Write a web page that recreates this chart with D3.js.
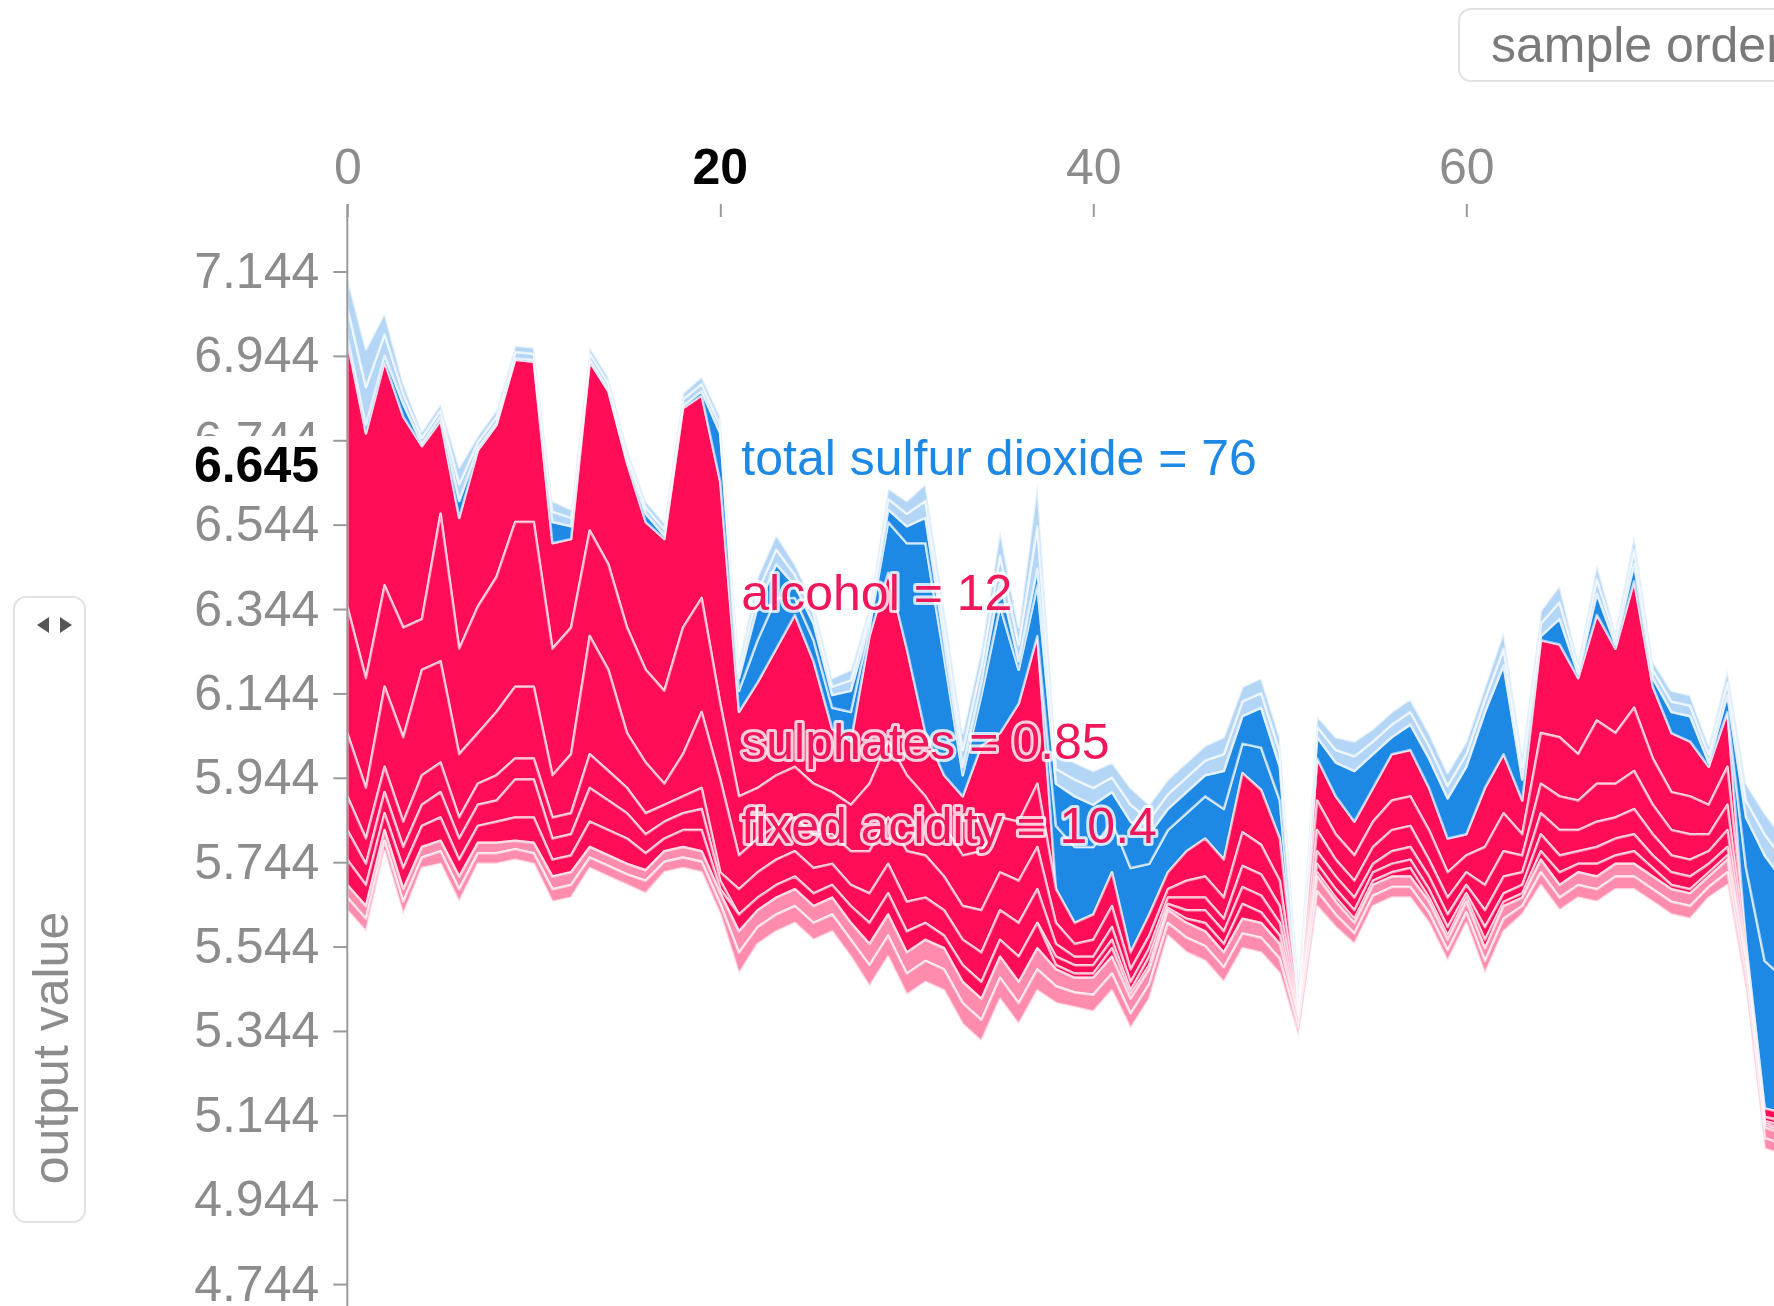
<!DOCTYPE html>
<html>
<head>
<meta charset="utf-8">
<script src="https://cdn.jsdelivr.net/npm/d3@7"></script>
<style>
  html, body { margin: 0; padding: 0; background: #fff; overflow: hidden; }
  svg { display: block; font-family: "Liberation Sans", Arial, Helvetica, sans-serif; }
</style>
</head>
<body>
<svg id="chart" width="1774" height="1306"></svg>
<script>
// ---- model output per sample (in sample order) ----
const outputValue = [
  6.98, 6.76, 6.93, 6.80, 6.73, 6.79, 6.56, 6.72, 6.78, 6.935, 6.93, 6.50, 6.51, 6.93, 6.86, 6.69, 6.55, 6.51, 6.82, 6.85,
  6.645, 6.10, 6.17, 6.25, 6.33, 6.22, 6.06, 6.03, 6.28, 6.43, 6.25, 6.05, 5.95, 5.90, 6.02, 6.05, 6.12, 6.28,
  5.68, 5.60, 5.62, 5.72, 5.53, 5.62, 5.72, 5.77, 5.80, 5.75, 5.955, 5.915, 5.80, 5.39,
  5.99, 5.90, 5.84, 5.92, 6.00, 6.01, 5.92, 5.80, 5.81, 5.92, 6.00, 5.89, 6.27, 6.26, 6.18, 6.33, 6.25, 6.41, 6.16, 6.05, 6.03, 5.97, 6.10,
  5.55, 5.16, 5.15, 5.18
];

// ---- SHAP contributions per feature (positive pushes up, negative pushes down) ----
const alcohol = [
  0.63, 0.58, 0.53, 0.50, 0.41, 0.22, 0.31, 0.37, 0.36, 0.385, 0.38, 0.25, 0.21, 0.40, 0.41, 0.39, 0.35, 0.36, 0.52, 0.48,
  0.525, 0.20, 0.25, 0.30, 0.36, 0.29, 0.15, 0.15, 0.35, 0.40, 0.30, 0.15, 0.12, 0.14, 0.25, 0.20, 0.28, 0.35,
  -0.15, -0.18, -0.16, -0.12, -0.20, -0.12, -0.10, -0.09, -0.10, -0.12, -0.07, -0.10, -0.09, -0.01,
  0.10, 0.09, 0.08, 0.08, 0.11, 0.11, 0.10, 0.08, 0.05, 0.14, 0.14, 0.08, 0.22, 0.22, 0.18, 0.25, 0.20, 0.30, 0.17, 0.14, 0.13, 0.09, 0.13,
  -0.18, -0.35, -0.32, -0.30
];
const totalSulfurDioxide = [
  -0.01, -0.02, -0.015, -0.03, -0.005, -0.01, -0.04, -0.005, -0.005, -0.003, -0.004, -0.05, -0.03, -0.005, -0.004, -0.006, -0.02, -0.008, -0.006, -0.01,
  -0.115, -0.05, -0.10, -0.12, -0.04, -0.05, -0.05, -0.07, -0.02, -0.12, -0.25, -0.45, -0.28, -0.05, -0.12, -0.30, -0.08, -0.12,
  -0.10, -0.12, -0.10, -0.07, -0.11, -0.07, -0.05, -0.05, -0.05, -0.09, -0.065, -0.095, -0.08, -0.01,
  -0.05, -0.08, -0.12, -0.08, -0.04, -0.06, -0.07, -0.095, -0.16, -0.18, -0.21, -0.05, -0.01, -0.06, -0.01, -0.05, -0.01, -0.04, -0.02, -0.05, -0.06, -0.01, -0.04,
  -0.12, -0.25, -0.23, -0.20
];
const sulphates = [
  0.30, 0.26, 0.24, 0.26, 0.12, 0.35, 0.25, 0.30, 0.32, 0.39, 0.39, 0.30, 0.30, 0.25, 0.25, 0.25, 0.22, 0.22, 0.30, 0.27,
  0.18, 0.14, 0.12, 0.12, 0.12, 0.12, 0.10, 0.11, 0.16, 0.18, 0.18, 0.14, 0.12, 0.12, 0.14, 0.13, 0.14, 0.15,
  0.08, 0.05, 0.06, 0.08, 0.04, 0.05, 0.04, 0.07, 0.09, 0.09, 0.14, 0.13, 0.10, 0.005,
  0.07, 0.06, 0.06, 0.06, 0.07, 0.07, 0.07, 0.06, 0.04, 0.09, 0.09, 0.05, 0.12, 0.14, 0.11, 0.15, 0.12, 0.15, 0.11, 0.09, 0.09, 0.07, 0.09,
  0.02, 0.02, 0.02, 0.02
];
const fixedAcidity = [
  0.15, 0.12, 0.19, 0.20, 0.25, 0.24, 0.15, 0.12, 0.15, 0.17, 0.17, 0.10, 0.14, 0.28, 0.24, 0.13, 0.12, 0.05, 0.10, 0.18,
  0.22, 0.08, 0.08, 0.08, 0.08, 0.08, 0.07, 0.08, 0.10, 0.11, 0.12, 0.10, 0.08, 0.08, 0.10, 0.09, 0.10, 0.10,
  0.05, 0.03, 0.04, 0.05, 0.03, 0.03, 0.02, 0.04, 0.05, 0.05, 0.08, 0.07, 0.06, 0.005,
  0.05, 0.04, 0.04, 0.04, 0.05, 0.05, 0.04, 0.04, 0.03, 0.06, 0.06, 0.04, 0.07, 0.08, 0.07, 0.09, 0.08, 0.09, 0.07, 0.06, 0.06, 0.04, 0.06,
  0.01, 0.01, 0.01, 0.01
];
const volatileAcidity = [
  0.08, 0.06, 0.06, 0.06, 0.07, 0.07, 0.05, 0.05, 0.06, 0.05, 0.05, 0.05, 0.05, 0.08, 0.07, 0.06, 0.05, 0.04, 0.04, 0.05,
  0.02, 0.06, 0.06, 0.06, 0.06, 0.06, 0.05, 0.05, 0.07, 0.07, 0.07, 0.06, 0.06, 0.06, 0.07, 0.07, 0.08, 0.08,
  0.03, 0.02, 0.02, 0.03, 0.02, 0.02, 0.015, 0.03, 0.03, 0.03, 0.05, 0.05, 0.04, 0.005,
  0.03, 0.03, 0.03, 0.02, 0.03, 0.03, 0.03, 0.03, 0.02, 0.04, 0.04, 0.03, 0.05, 0.06, 0.05, 0.06, 0.05, 0.06, 0.05, 0.04, 0.04, 0.03, 0.04,
  0.01, 0.005, 0.01, 0.01
];
const citricAcid = [
  0.07, 0.05, 0.05, 0.05, 0.05, 0.06, 0.05, 0.05, 0.05, 0.09, 0.09, 0.05, 0.05, 0.08, 0.07, 0.06, 0.045, 0.04, 0.04, 0.05,
  0.02, -0.03, -0.08, -0.08, -0.03, -0.04, -0.03, -0.05, -0.01, -0.03, -0.04, -0.06, -0.04, -0.02, -0.03, -0.06, -0.02, -0.04,
  0.02, 0.02, 0.02, 0.02, 0.01, 0.02, 0.01, 0.02, 0.03, 0.03, 0.04, 0.04, 0.03, 0.005,
  0.02, 0.02, 0.02, 0.02, 0.02, 0.02, 0.02, 0.02, 0.01, 0.03, 0.02, 0.02, 0.04, 0.04, 0.03, 0.04, 0.04, 0.04, 0.03, 0.03, 0.03, 0.02, 0.02,
  0.01, 0.005, 0.005, 0.005
];
const density = [
  0.06, 0.05, 0.04, 0.05, 0.05, 0.055, 0.04, 0.04, 0.05, 0.055, 0.06, 0.04, 0.04, 0.06, 0.06, 0.06, 0.04, 0.03, 0.04, 0.05,
  0.01, 0.04, 0.03, 0.03, 0.03, 0.03, 0.03, 0.04, 0.05, 0.05, 0.05, 0.04, 0.03, 0.04, 0.04, 0.04, 0.06, 0.06,
  0.01, 0.01, 0.01, 0.02, 0.01, 0.01, 0.005, 0.01, 0.02, 0.02, 0.035, 0.025, 0.02, 0,
  0.01, 0.01, 0.01, 0.01, 0.01, 0.02, 0.01, 0.01, 0.01, 0.02, 0.01, 0.01, 0.02, 0.03, 0.02, 0.03, 0.02, 0.03, 0.02, 0.01, 0.01, 0.01, 0.01,
  0, 0.005, 0.005, 0.005
];
const freeSulfurDioxide = [
  -0.07, -0.09, -0.05, -0.025, -0.015, -0.015, -0.04, -0.015, -0.015, -0.015, -0.015, -0.025, -0.02, -0.015, -0.015, -0.015, -0.015, -0.015, -0.015, -0.017,
  -0.02, -0.02, -0.035, -0.035, -0.025, -0.025, -0.02, -0.025, -0.02, -0.025, -0.03, -0.04, -0.04, -0.04, -0.04, -0.06, -0.04, -0.10,
  -0.035, -0.04, -0.04, -0.035, -0.04, -0.035, -0.035, -0.035, -0.035, -0.04, -0.035, -0.035, -0.035, -0.025,
  -0.025, -0.03, -0.035, -0.03, -0.03, -0.03, -0.03, -0.03, -0.03, -0.03, -0.04, -0.03, -0.03, -0.04, -0.015, -0.035, -0.015, -0.035, -0.02, -0.025, -0.025, -0.02, -0.03,
  -0.04, -0.05, -0.05, -0.05
];
const chlorides = [
  -0.07, -0.09, -0.05, -0.025, -0.015, -0.015, -0.04, -0.015, -0.015, -0.015, -0.015, -0.025, -0.02, -0.015, -0.015, -0.015, -0.015, -0.015, -0.015, -0.018,
  -0.02, -0.02, -0.035, -0.035, -0.025, -0.025, -0.02, -0.025, -0.02, -0.025, -0.03, -0.04, -0.04, -0.04, -0.04, -0.06, -0.04, -0.10,
  -0.035, -0.04, -0.04, -0.035, -0.04, -0.035, -0.035, -0.035, -0.035, -0.04, -0.035, -0.035, -0.035, -0.025,
  -0.025, -0.03, -0.035, -0.03, -0.03, -0.03, -0.03, -0.03, -0.03, -0.03, -0.04, -0.03, -0.03, -0.04, -0.015, -0.035, -0.015, -0.035, -0.02, -0.025, -0.025, -0.02, -0.03,
  -0.04, -0.05, -0.05, -0.05
];
const pH = [
  0.03, 0.03, 0.025, 0.03, 0.025, 0.025, 0.03, 0.025, 0.025, 0.02, 0.025, 0.03, 0.03, 0.025, 0.025, 0.025, 0.025, 0.025, 0.025, 0.025,
  0.025, 0.05, 0.04, 0.04, 0.04, 0.04, 0.04, 0.04, 0.05, 0.05, 0.05, 0.05, 0.05, 0.05, 0.05, 0.05, 0.05, 0.05,
  0.04, 0.035, 0.04, 0.04, 0.035, 0.035, 0.03, 0.035, 0.035, 0.035, 0.035, 0.035, 0.035, 0.02,
  0.035, 0.03, 0.025, 0.025, 0.025, 0.025, 0.025, 0.025, 0.025, 0.03, 0.03, 0.02, 0.03, 0.03, 0.03, 0.03, 0.03, 0.03, 0.03, 0.03, 0.03, 0.025, 0.03,
  0.03, 0.025, 0.025, 0.025
];
const residualSugar = [
  0.03, 0.03, 0.025, 0.03, 0.025, 0.03, 0.03, 0.025, 0.025, 0.025, 0.025, 0.03, 0.03, 0.025, 0.025, 0.025, 0.03, 0.025, 0.025, 0.025,
  0.025, 0.05, 0.04, 0.04, 0.04, 0.04, 0.04, 0.04, 0.05, 0.05, 0.05, 0.05, 0.05, 0.05, 0.05, 0.05, 0.05, 0.05,
  0.04, 0.035, 0.04, 0.04, 0.035, 0.035, 0.03, 0.035, 0.035, 0.035, 0.035, 0.035, 0.035, 0.02,
  0.035, 0.03, 0.025, 0.025, 0.025, 0.025, 0.025, 0.025, 0.025, 0.03, 0.03, 0.02, 0.03, 0.03, 0.03, 0.03, 0.03, 0.03, 0.03, 0.03, 0.03, 0.025, 0.03,
  0.03, 0.025, 0.025, 0.025
];

// stacking order of the features, and the minor ones drawn in a lighter tint
const featureNames = ["alcohol", "total sulfur dioxide", "sulphates", "fixed acidity", "volatile acidity",
  "citric acid", "density", "free sulfur dioxide", "chlorides", "pH", "residual sugar"];
const featureShap = [alcohol, totalSulfurDioxide, sulphates, fixedAcidity, volatileAcidity,
  citricAcid, density, freeSulfurDioxide, chlorides, pH, residualSugar];
const minorFeatures = ["free sulfur dioxide", "chlorides", "pH", "residual sugar"];

// axes
const xTickValues = [0, 20, 40, 60];
const yTickValues = [4.744, 4.944, 5.144, 5.344, 5.544, 5.744, 5.944, 6.144, 6.344, 6.544, 6.744, 6.944, 7.144];

// highlighted sample and the feature values shown beside it
const hoverIndex = 20;
const hoverFeatures = ["total sulfur dioxide", "alcohol", "sulphates", "fixed acidity"];
const hoverFeatureValues = ["76", "12", "0.85", "10.4"];

// ---------------------------------------------------------------
const colors = { pos: "#ff0d57", neg: "#1e88e5", posLight: "#ff8cad", negLight: "#b3d5f6" };

const svg = d3.select("#chart");
const n = outputValue.length;

const x = d3.scaleLinear().domain([0, 80]).range([347.3, 347.3 + 80 * 18.65]);
const y = d3.scaleLinear().domain([4.744, 7.144]).range([1284.1, 271.5]);

// stack: positive effects below the output value, negative effects above it
const bands = featureNames.map(() => ({ pos: [], neg: [] }));
for (let i = 0; i < n; i++) {
  let lo = outputValue[i], hi = outputValue[i];
  featureShap.forEach((vals, k) => {
    const v = vals[i];
    if (v > 0) {
      bands[k].pos.push({ i, top: lo, bottom: lo - v, w: v });
      bands[k].neg.push({ i, top: hi, bottom: hi, w: 0 });
      lo -= v;
    } else {
      bands[k].neg.push({ i, top: hi - v, bottom: hi, w: -v });
      bands[k].pos.push({ i, top: lo, bottom: lo, w: 0 });
      hi -= v;
    }
  });
}

const plot = svg.append("g");

function drawBand(series, fill) {
  const visible = (d, i) => d.w > 0 || (i > 0 && series[i - 1].w > 0) || (i < n - 1 && series[i + 1].w > 0);
  const area = d3.area()
    .defined(visible)
    .x(d => x(d.i))
    .y0(d => y(d.bottom))
    .y1(d => y(d.top));
  plot.append("path")
    .datum(series)
    .attr("d", area)
    .attr("fill", fill)
    .attr("stroke", "#fff")
    .attr("stroke-opacity", 0.62)
    .attr("stroke-width", 2.5)
    .attr("stroke-linejoin", "round");
}

featureNames.forEach((name, k) => {
  const minor = minorFeatures.includes(name);
  drawBand(bands[k].pos, minor ? colors.posLight : colors.pos);
  drawBand(bands[k].neg, minor ? colors.negLight : colors.neg);
});

// ---- y axis ----
const axisColor = "#9a9a9a";
const labelColor = "#8c8c8c";
svg.append("line")
  .attr("x1", x(0)).attr("x2", x(0))
  .attr("y1", 204).attr("y2", 1306)
  .attr("stroke", axisColor).attr("stroke-width", 2);

const yAxis = svg.append("g")
  .attr("transform", `translate(${x(0)},0)`)
  .call(d3.axisLeft(y).tickValues(yTickValues).tickFormat(d3.format(".3f")).tickSize(14).tickPadding(14));
yAxis.select(".domain").remove();
yAxis.selectAll("line").attr("stroke", axisColor).attr("stroke-width", 2);
yAxis.selectAll("text").attr("font-size", 50).attr("fill", labelColor).attr("font-family", null);

// ---- x axis (top) ----
const xAxis = svg.append("g")
  .attr("transform", "translate(0,204)")
  .call(d3.axisTop(x).tickValues(xTickValues).tickFormat(d3.format("d")).tickSize(-13).tickPadding(20));
xAxis.select(".domain").remove();
xAxis.selectAll("line").attr("stroke", axisColor).attr("stroke-width", 2);
xAxis.selectAll("text").attr("font-size", 50).attr("fill", labelColor).attr("font-family", null)
  .filter(d => d === hoverIndex).remove();

// hovered sample index
svg.append("text")
  .attr("x", x(hoverIndex)).attr("y", 184)
  .attr("text-anchor", "middle")
  .attr("font-size", 50).attr("font-weight", "bold").attr("fill", "#000")
  .text(hoverIndex);

// hovered output value
svg.append("rect")
  .attr("x", 180).attr("y", y(outputValue[hoverIndex]) - 46)
  .attr("width", 145).attr("height", 56)
  .attr("fill", "#fff");
svg.append("text")
  .attr("x", 319).attr("y", y(outputValue[hoverIndex]))
  .attr("text-anchor", "end")
  .attr("font-size", 50).attr("font-weight", "bold").attr("fill", "#000")
  .text(d3.format(".3f")(outputValue[hoverIndex]));

// feature labels beside the hovered sample, centred on each feature's band
hoverFeatures.forEach((name, j) => {
  const k = featureNames.indexOf(name);
  const v = featureShap[k][hoverIndex];
  const b = v > 0 ? bands[k].pos[hoverIndex] : bands[k].neg[hoverIndex];
  const mid = (b.top + b.bottom) / 2;
  svg.append("text")
    .attr("x", x(hoverIndex) + 21)
    .attr("y", y(mid))
    .attr("dominant-baseline", "central")
    .attr("font-size", 50)
    .attr("fill", v > 0 ? "#f0185a" : colors.neg)
    .attr("stroke", "#fff").attr("stroke-opacity", 0.8).attr("stroke-width", 6)
    .attr("paint-order", "stroke")
    .attr("stroke-linejoin", "round")
    .text(`${name} = ${hoverFeatureValues[j]}`);
});

// ---- selector boxes ----
const leftBox = svg.append("g");
leftBox.append("rect")
  .attr("x", 14).attr("y", 597).attr("width", 71).attr("height", 625).attr("rx", 12)
  .attr("fill", "#fff").attr("stroke", "#e2e2e2").attr("stroke-width", 2);
leftBox.append("path").attr("d", "M37,625 L49,617 L49,633 Z").attr("fill", "#555");
leftBox.append("path").attr("d", "M72,625 L60,617 L60,633 Z").attr("fill", "#555");
leftBox.append("text")
  .attr("transform", "translate(51,1048) rotate(-90)")
  .attr("text-anchor", "middle").attr("dominant-baseline", "central")
  .attr("font-size", 50).attr("fill", "#8c8c8c")
  .text("output value");

const topBox = svg.append("g");
topBox.append("rect")
  .attr("x", 1459).attr("y", 9).attr("width", 400).attr("height", 72).attr("rx", 12)
  .attr("fill", "#fff").attr("stroke", "#e2e2e2").attr("stroke-width", 2);
topBox.append("text")
  .attr("x", 1491).attr("y", 45)
  .attr("dominant-baseline", "central")
  .attr("font-size", 50).attr("fill", "#7a7a7a")
  .text("sample order");
</script>
</body>
</html>
